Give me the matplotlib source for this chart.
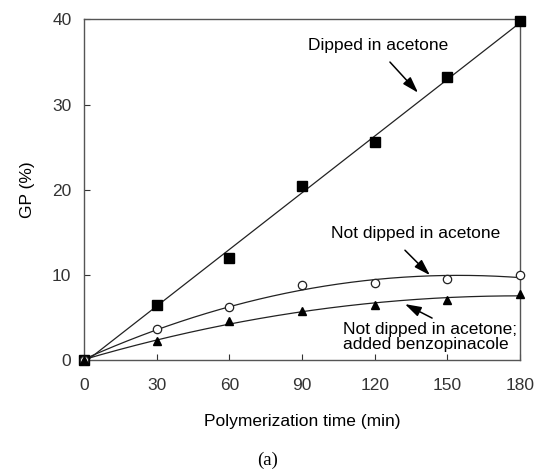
import matplotlib
matplotlib.use('Agg')
import numpy as np
import matplotlib.pyplot as plt

plt.rcParams['font.family'] = ['Liberation Sans', 'DejaVu Sans']

# polymerization time (min)
time_min = [0, 30, 60, 90, 120, 150, 180]
# grafting percentage (%)
gp_dipped = [0, 6.5, 12.0, 20.4, 25.6, 33.2, 39.8]
gp_not_dipped = [0, 3.6, 6.2, 8.8, 9.1, 9.5, 10.0]
gp_benzo = [0, 2.2, 4.6, 5.8, 6.5, 7.0, 7.8]

x_ticks = [0, 30, 60, 90, 120, 150, 180]
y_ticks = [0, 10, 20, 30, 40]

fig = plt.figure(figsize=(5.35, 4.75), dpi=100, facecolor='white')
ax = fig.add_axes([0.157, 0.242, 0.815, 0.717])

t = np.array(time_min, dtype=float)
tt = np.linspace(0, 180, 200)

# fitted trend curves
fit_lin = np.polyfit(t, gp_dipped, 1)
fit_nd = np.polyfit(t, gp_not_dipped, 2)
fit_bz = np.polyfit(t, gp_benzo, 2)
line_kw = dict(color='#222222', lw=0.9, zorder=2)
ax.plot(tt, np.polyval(fit_lin, tt), **line_kw)
ax.plot(tt, np.polyval(fit_nd, tt), **line_kw)
ax.plot(tt, np.polyval(fit_bz, tt), **line_kw)

ax.plot(t, gp_dipped, 's', color='black', ms=6.5, zorder=3, clip_on=False)
ax.plot(t, gp_not_dipped, 'o', mfc='white', mec='#222222', mew=0.9, ms=6, zorder=3, clip_on=False)
ax.plot(t, gp_benzo, '^', color='black', ms=6, zorder=3, clip_on=False)

ax.set_xlim(0, 180)
ax.set_ylim(0, 40)
ax.set_xticks(x_ticks)
ax.set_yticks(y_ticks)
ax.tick_params(direction='in', length=4, width=0.8, colors='#333333', labelsize=12.5)
ax.tick_params(axis='x', pad=13)
ax.tick_params(axis='y', pad=9)
for s in ax.spines.values():
    s.set_color('#555555')
    s.set_linewidth(1.0)

ax.set_xlabel('Polymerization time (min)', fontsize=12.5, labelpad=15)
ax.set_ylabel('GP (%)', fontsize=12.5, labelpad=12)

arrow = dict(arrowstyle='-|>,head_length=0.7,head_width=0.22', color='black',
             lw=1.1, mutation_scale=14, shrinkA=0, shrinkB=0)

ax.text(121.4, 37.0, 'Dipped in acetone', ha='center', va='center', fontsize=12.5)
ax.annotate('', xy=(137.9, 31.4), xytext=(126.3, 35.0), arrowprops=arrow)

ax.text(136.7, 14.9, 'Not dipped in acetone', ha='center', va='center', fontsize=12.5)
ax.annotate('', xy=(142.8, 9.97), xytext=(132.5, 12.9), arrowprops=arrow)

ax.text(106.9, 2.75, 'Not dipped in acetone;\nadded benzopinacole',
        ha='left', va='center', fontsize=12.5, linespacing=1.0)
ax.annotate('', xy=(132.5, 6.57), xytext=(143.7, 4.93), arrowprops=arrow)

fig.text(268 / 535, 1 - 460 / 475, '(a)', ha='center', va='center',
         fontsize=13.5, family=['Liberation Serif', 'DejaVu Serif'])

fig.savefig('out.png', dpi=100)
